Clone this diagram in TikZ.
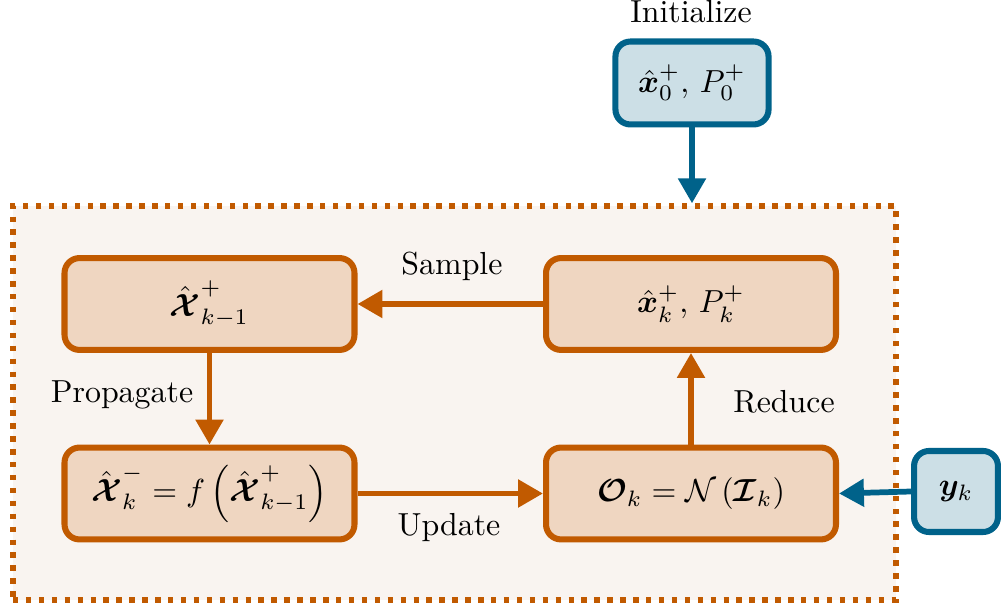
\documentclass[tikz,border=0pt]{standalone}
\usepackage{amsmath,bm}
\usetikzlibrary{arrows.meta}
\definecolor{orng}{HTML}{C15A00}
\definecolor{orfill}{HTML}{EFD6C1}
\definecolor{bgfill}{HTML}{F9F4F0}
\definecolor{blu}{HTML}{00628A}
\definecolor{blfill}{HTML}{CCDFE6}
\tikzset{
  obox/.style={draw=orng, fill=orfill, line width=1.9pt, rounded corners=4.7pt,
    minimum width=90.9pt, minimum height=28.8pt, inner sep=0pt},
  bbox/.style={draw=blu, fill=blfill, line width=1.9pt, rounded corners=4.7pt, inner sep=0pt},
  oarr/.style={draw=orng, line width=1.8pt, -{Triangle[length=7.8pt,width=8.4pt]}},
  barr/.style={draw=blu, line width=1.8pt, -{Triangle[length=7.8pt,width=8.4pt]}},
  frame/.style={draw=orng, fill=bgfill, line width=1.7pt, dash pattern=on 1.7pt off 2.35pt,
    minimum width=276.8pt, minimum height=123.5pt, inner sep=0pt},
  lbl/.style={inner sep=0pt}
}
\begin{document}
\begin{tikzpicture}[x=0.3135pt,y=-0.3135pt]
\useasboundingbox (0,0) rectangle (1002,609);
\node[frame] (frame) at (454.5,403) {};
\node[obox] (A) at (209.5,304) {$\hat{\bm{\mathcal{X}}}_{k-1}^{+}$};
\node[obox] (B) at (209.5,493.5) {$\hat{\bm{\mathcal{X}}}_{k}^{-} = f\left(\hat{\bm{\mathcal{X}}}_{k-1}^{+}\right)$};
\node[obox] (C) at (691,304) {$\hat{\bm{x}}_{k}^{+},\, P_{k}^{+}$};
\node[obox] (D) at (691,493.5) {$\bm{\mathcal{O}}_{k} = \mathcal{N}\left(\bm{\mathcal{I}}_{k}\right)$};
\node[bbox, minimum width=48pt, minimum height=26pt] (init) at (692,83) {$\hat{\bm{x}}_{0}^{+},\, P_{0}^{+}$};
\node[bbox, minimum width=26.3pt, minimum height=25.4pt] (y) at (956,491.5) {$\bm{y}_{k}$};
\node[lbl] (linit) at (691,12) {Initialize};
\node[lbl] (lsample) at (452,266) {Sample};
\node[lbl] (lprop) at (122,395) {Propagate};
\node[lbl] (lreduce) at (784,402) {Reduce};
\node[lbl] (lupdate) at (449,528) {Update};
\coordinate (ftop) at (init.south |- frame.north);
\draw[barr] (init.south) -- (ftop);
\draw[oarr] (C.west) -- (A.east);
\draw[oarr] (A.south) -- (B.north);
\draw[oarr] (B.east) -- (D.west);
\draw[oarr] (D.north) -- (C.south);
\draw[barr] (y.west) -- (D.east);
\end{tikzpicture}
\end{document}
